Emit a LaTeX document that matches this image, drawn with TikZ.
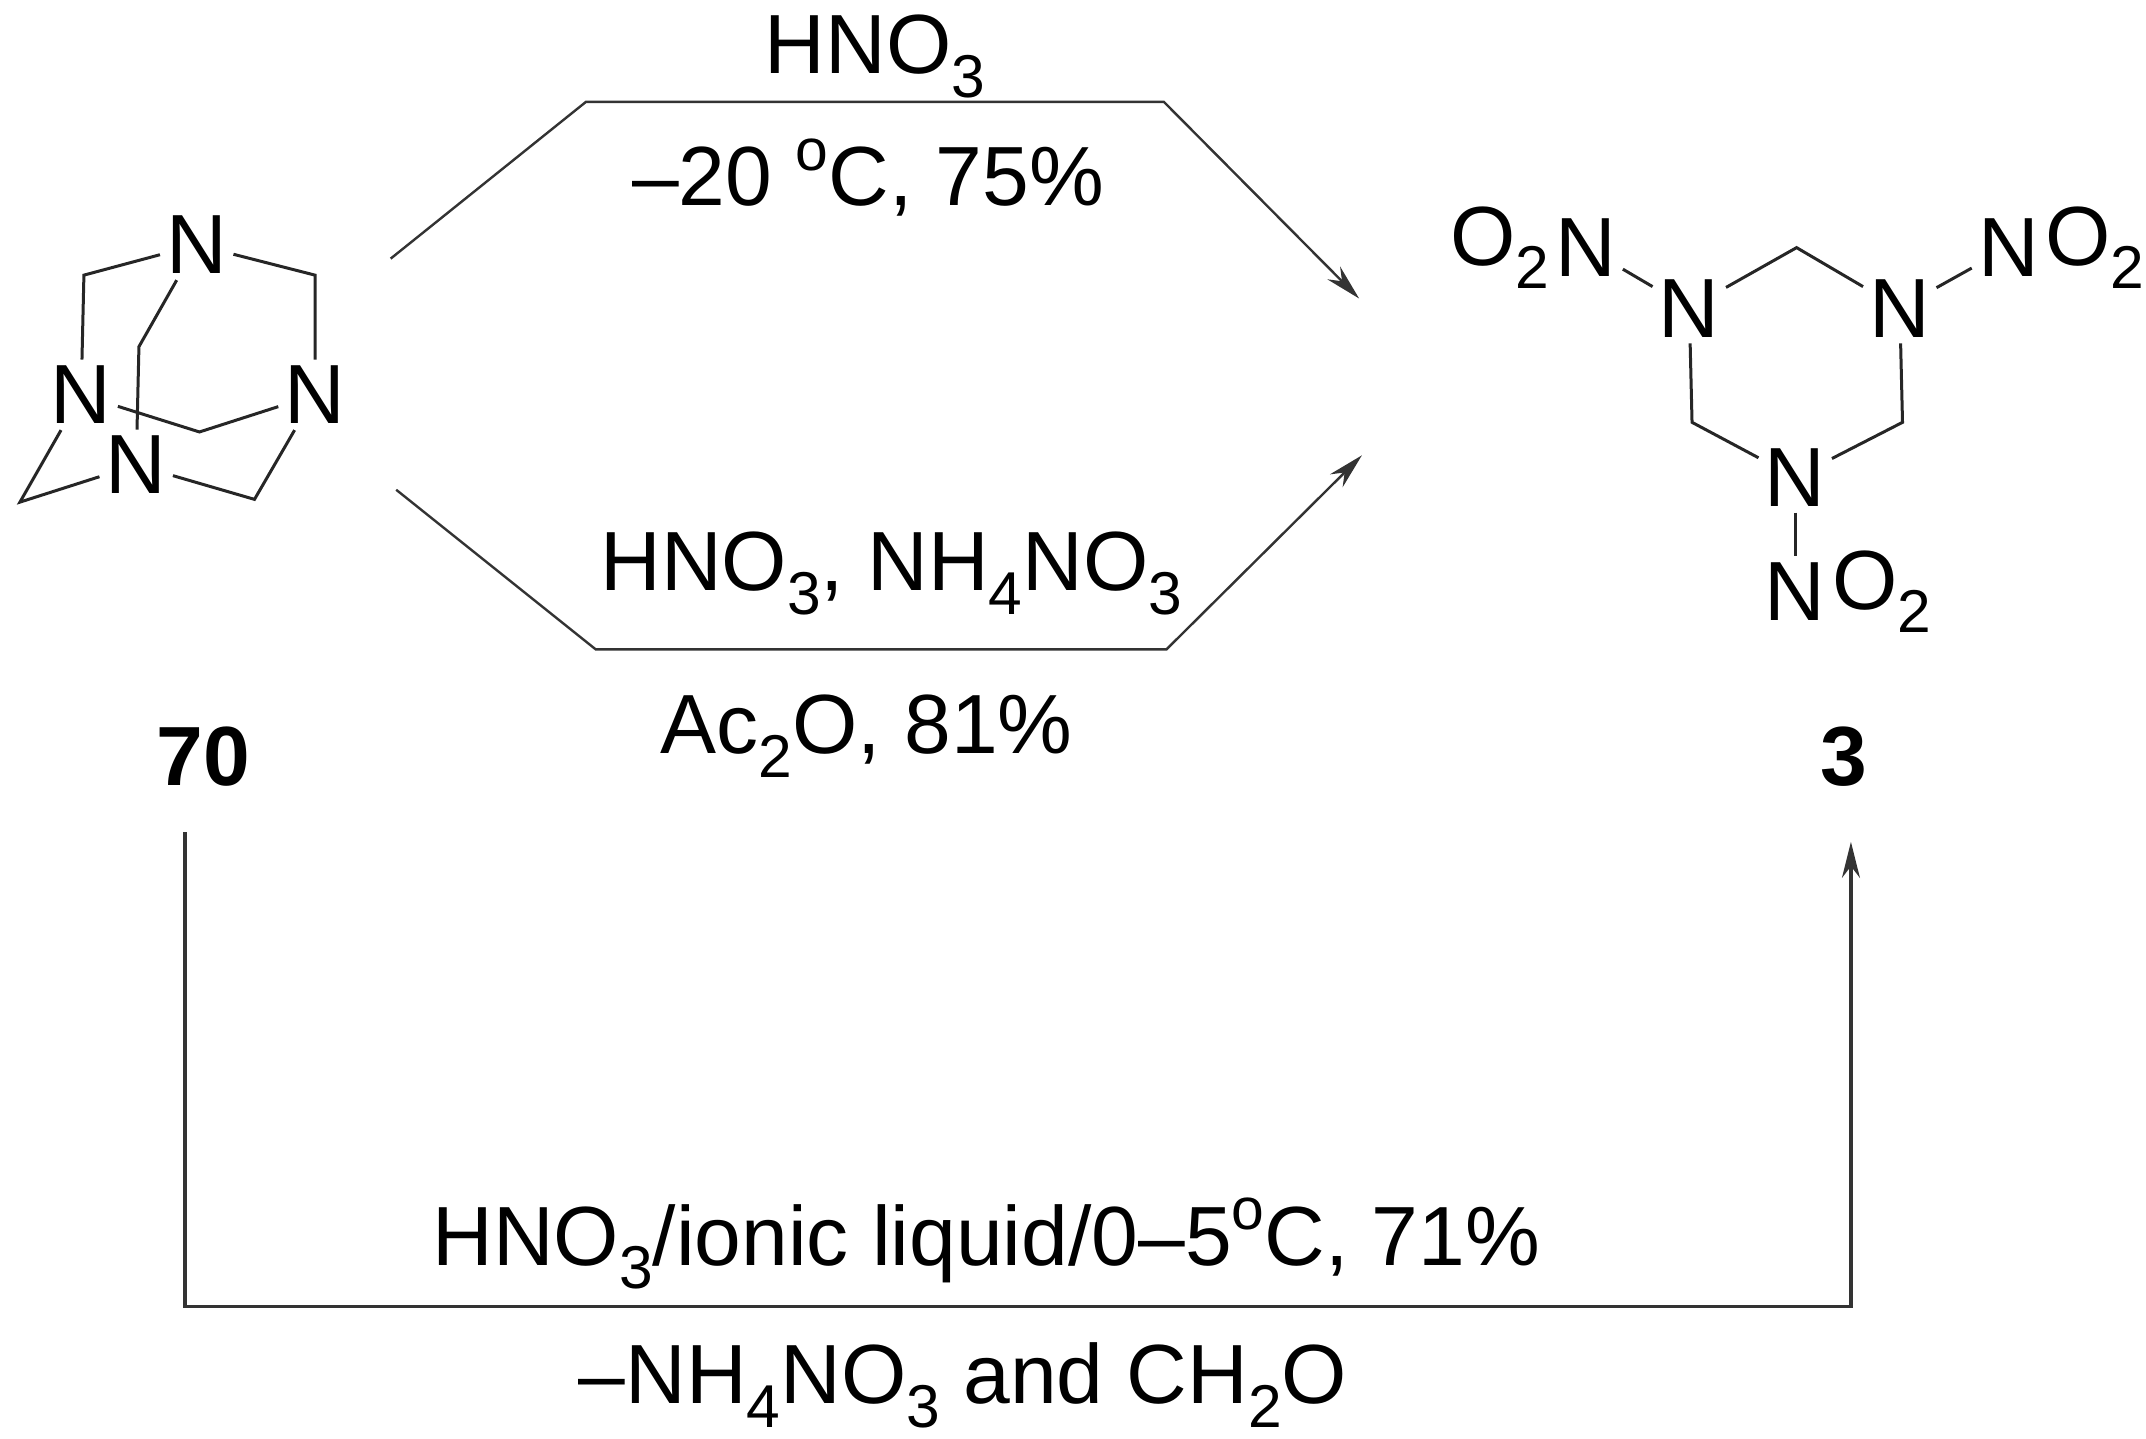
\documentclass[tikz,border=0pt]{standalone}
\usepackage{fontspec}
\usepackage{graphicx}
\setmainfont{Liberation Sans}
\usetikzlibrary{arrows.meta}
\newcommand{\sbs}[1]{\raisebox{-0.28em}{\scalebox{0.72}{#1}}}
\newcommand{\sps}[1]{\raisebox{0.42em}{\scalebox{0.7}{#1}}}
\begin{document}
\begin{tikzpicture}[x=0.6878pt,y=-0.6878pt,
  atom/.style={font=\fontsize{42}{44}\selectfont,inner sep=3pt},
  lbl/.style={font=\fontsize{42}{44}\selectfont,inner sep=0pt},
  bond/.style={line width=1.5pt,black!85},
  rxn/.style={line width=1.2pt,black!80},
  tip/.style={-{Stealth[length=18pt,width=9pt]}}]
\useasboundingbox (0,0) rectangle (1560,1046);
% hexamine 70
\node[atom] (ht) at (143,178) {N};
\node[atom] (hl) at (59,287) {N};
\node[atom] (hr) at (229,287) {N};
\node[atom] (hb) at (99,338) {N};
\coordinate (c1) at (61,200);
\coordinate (c2) at (229,200);
\coordinate (c3) at (101,252);
\coordinate (c4) at (145,314);
\coordinate (c5) at (14.5,365);
\coordinate (c6) at (185,363);
\draw[bond] (ht) -- (c1) -- (hl);
\draw[bond] (ht) -- (c2) -- (hr);
\draw[bond] (ht) -- (c3) -- (hb);
\draw[bond] (hl) -- (c4) -- (hr);
\draw[bond] (hl) -- (c5) -- (hb);
\draw[bond] (hb) -- (c6) -- (hr);
\node[lbl,font=\bfseries\fontsize{42}{44}\selectfont] (l70) at (148,550) {70};
% RDX 3
\node[atom] (rl) at (1228,224) {N};
\node[atom] (rr) at (1381,224) {N};
\node[atom] (rb) at (1305,347) {N};
\coordinate (d1) at (1306,180);
\coordinate (d2) at (1230,307);
\coordinate (d3) at (1383,307);
\draw[bond] (rl) -- (d1) -- (rr);
\draw[bond] (rl) -- (d2) -- (rb);
\draw[bond] (rr) -- (d3) -- (rb);
\node[atom] (nl) at (1153,180) {N};
\node[atom,anchor=east,inner xsep=0pt] (ol) at (nl.west) {O\sbs{2}};
\node[atom] (nr) at (1460,180) {N};
\node[atom,anchor=west,inner xsep=0pt] (or) at (nr.east) {O\sbs{2}};
\node[atom] (nb) at (1305,430) {N};
\node[atom,anchor=west,inner xsep=0pt] (ob) at (nb.east) {O\sbs{2}};
\draw[bond] (rl) -- (nl);
\draw[bond] (rr) -- (nr);
\draw[bond] (rb) -- (nb);
\node[lbl,font=\bfseries\fontsize{42}{44}\selectfont] (l3) at (1340,550) {3};
% top arrow
\coordinate (a0) at (284,188);
\coordinate (a1) at (426,74);
\coordinate (a2) at (846,74);
\coordinate (a3) at (988,217);
\draw[rxn,tip] (a0) -- (a1) -- (a2) -- (a3);
\node[lbl] (t1) at (636,41) {HNO\sbs{3}};
\node[lbl] (t2) at (631,129) {–20 \sps{o}C, 75\%};
% lower arrow
\coordinate (b0) at (288,356);
\coordinate (b1) at (433,472);
\coordinate (b2) at (848,472);
\coordinate (b3) at (990,331);
\draw[rxn,tip] (b0) -- (b1) -- (b2) -- (b3);
\node[lbl] (t3) at (648,417) {HNO\sbs{3}, NH\sbs{4}NO\sbs{3}};
\node[lbl] (t4) at (630,535) {Ac\sbs{2}O, 81\%};
% bottom bracket arrow
\coordinate (e0) at (134.5,605);
\coordinate (e1) at (134.5,950);
\coordinate (e2) at (1345.5,950);
\coordinate (e3) at (1345.5,612);
\draw[rxn,line width=1.6pt,tip] (e0) -- (e1) -- (e2) -- (e3);
\node[lbl] (t5) at (717,904) {HNO\sbs{3}/ionic liquid/0–5\sps{o}C, 71\%};
\node[lbl] (t6) at (700,1007) {–NH\sbs{4}NO\sbs{3} and CH\sbs{2}O};
\end{tikzpicture}
\end{document}
